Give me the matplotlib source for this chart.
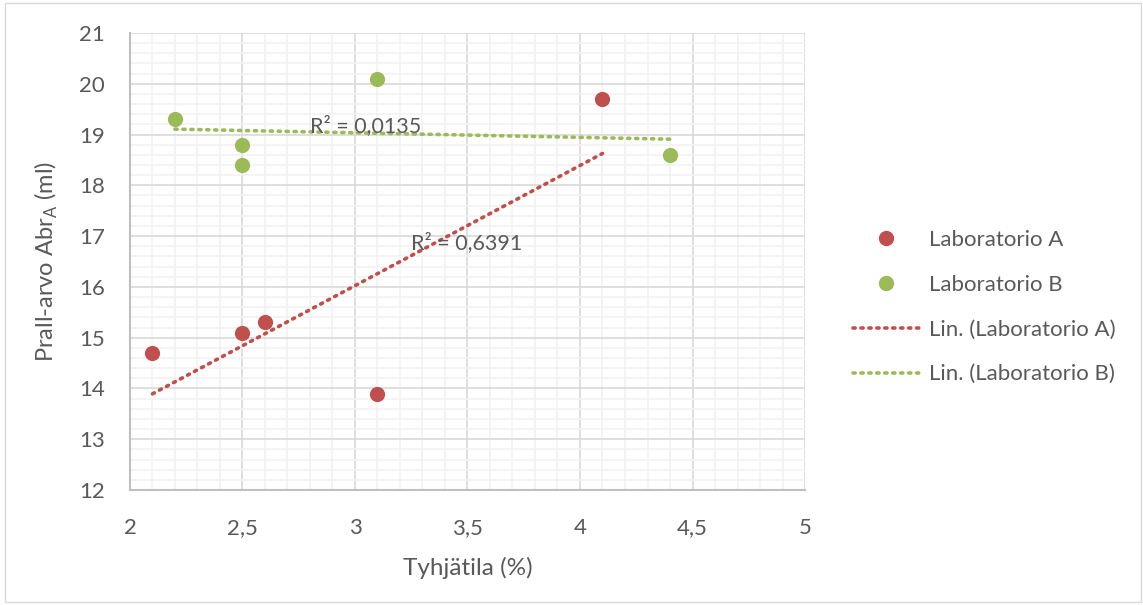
import numpy as np
import matplotlib
matplotlib.use("Agg")
import matplotlib.pyplot as plt
from matplotlib.lines import Line2D
from matplotlib.patches import Rectangle

plt.rcParams['font.family'] = ['Lato', 'DejaVu Sans']
plt.rcParams['mathtext.fontset'] = 'custom'
plt.rcParams['mathtext.rm'] = 'Lato'

# Void content (%) and Prall abrasion values per laboratory
lab_a_x = [2.1, 2.5, 2.6, 3.1, 4.1]
lab_a_y = [14.7, 15.1, 15.3, 13.9, 19.7]
lab_b_x = [2.2, 2.5, 2.5, 3.1, 4.4]
lab_b_y = [19.3, 18.8, 18.4, 20.1, 18.6]

series_names = ["Laboratorio A", "Laboratorio B"]
x_ticks = [2, 2.5, 3, 3.5, 4, 4.5, 5]
x_tick_labels = ["2", "2,5", "3", "3,5", "4", "4,5", "5"]
y_ticks = list(range(12, 22))

RED = "#C0504D"
GREEN = "#9BBB59"
TXT = "#595959"

fig = plt.figure(figsize=(11.43, 6.05), dpi=100)
fig.patch.set_facecolor("white")
fig.add_artist(Rectangle((0.004, 0.005), 0.994, 0.99, transform=fig.transFigure,
                         fill=False, edgecolor="#D9D9D9", linewidth=1))

ax = fig.add_axes([0.1137, 0.19, 0.5906, 0.7555])
ax.set_xlim(2, 5)
ax.set_ylim(12, 21)

ax.set_xticks(x_ticks)
ax.set_xticklabels(x_tick_labels)
ax.set_yticks(y_ticks)
ax.set_xticks(np.arange(2, 5.001, 0.1), minor=True)
ax.set_yticks(np.arange(12, 21.001, 0.2), minor=True)
ax.grid(which="minor", color="#F2F2F2", linewidth=1.2, zorder=0)
ax.grid(which="major", color="#D9D9D9", linewidth=1.2, zorder=0)
ax.set_axisbelow(True)
ax.tick_params(which="both", length=0, labelsize=16, colors=TXT)
ax.tick_params(axis="x", pad=20)
ax.tick_params(axis="y", pad=18)
for s in ["top", "right"]:
    ax.spines[s].set_visible(False)
for s in ["left", "bottom"]:
    ax.spines[s].set_color("#BFBFBF")
    ax.spines[s].set_linewidth(1.5)

ax.set_xlabel("Tyhjätila (%)", fontsize=17.5, color=TXT, labelpad=14)
ax.set_ylabel(r"Prall-arvo Abr$_\mathrm{A}$ (ml)", fontsize=17, color=TXT, labelpad=14)


def trend(x, y):
    x = np.asarray(x, float)
    y = np.asarray(y, float)
    k, b = np.polyfit(x, y, 1)
    r2 = np.corrcoef(x, y)[0, 1] ** 2
    xs = np.array([x.min(), x.max()])
    return xs, k * xs + b, r2


dot = (0, (0.6, 1.6))
xa, ya, r2a = trend(lab_a_x, lab_a_y)
xb, yb, r2b = trend(lab_b_x, lab_b_y)
ax.plot(xa, ya, color=RED, linewidth=2.6, linestyle=dot, dash_capstyle="round", zorder=3)
ax.plot(xb, yb, color=GREEN, linewidth=2.6, linestyle=dot, dash_capstyle="round", zorder=3)

ax.scatter(lab_a_x, lab_a_y, s=120, color=RED, zorder=4, linewidths=0)
ax.scatter(lab_b_x, lab_b_y, s=120, color=GREEN, zorder=4, linewidths=0)


def r2_text(v):
    return "R² = " + f"{v:.4f}".replace(".", ",")


ax.text(3.249, 16.87, r2_text(r2a), fontsize=15.5, color=TXT, va="center", ha="left", zorder=5)
ax.text(2.8, 19.17, r2_text(r2b), fontsize=15.5, color=TXT, va="center", ha="left", zorder=5)

handles = [
    Line2D([], [], marker="o", linestyle="none", color=RED, markersize=10),
    Line2D([], [], marker="o", linestyle="none", color=GREEN, markersize=10),
    Line2D([], [], color=RED, linewidth=2.6, linestyle=dot, dash_capstyle="round"),
    Line2D([], [], color=GREEN, linewidth=2.6, linestyle=dot, dash_capstyle="round"),
]
labels = series_names + ["Lin. (" + n + ")" for n in series_names]
fig.legend(handles, labels, loc="center left", bbox_to_anchor=(0.7285, 0.4926),
           frameon=False, fontsize=16, labelcolor=TXT, handlelength=3.0,
           handletextpad=0.45, labelspacing=1.12)

fig.savefig("out.png", dpi=100, facecolor="white")
